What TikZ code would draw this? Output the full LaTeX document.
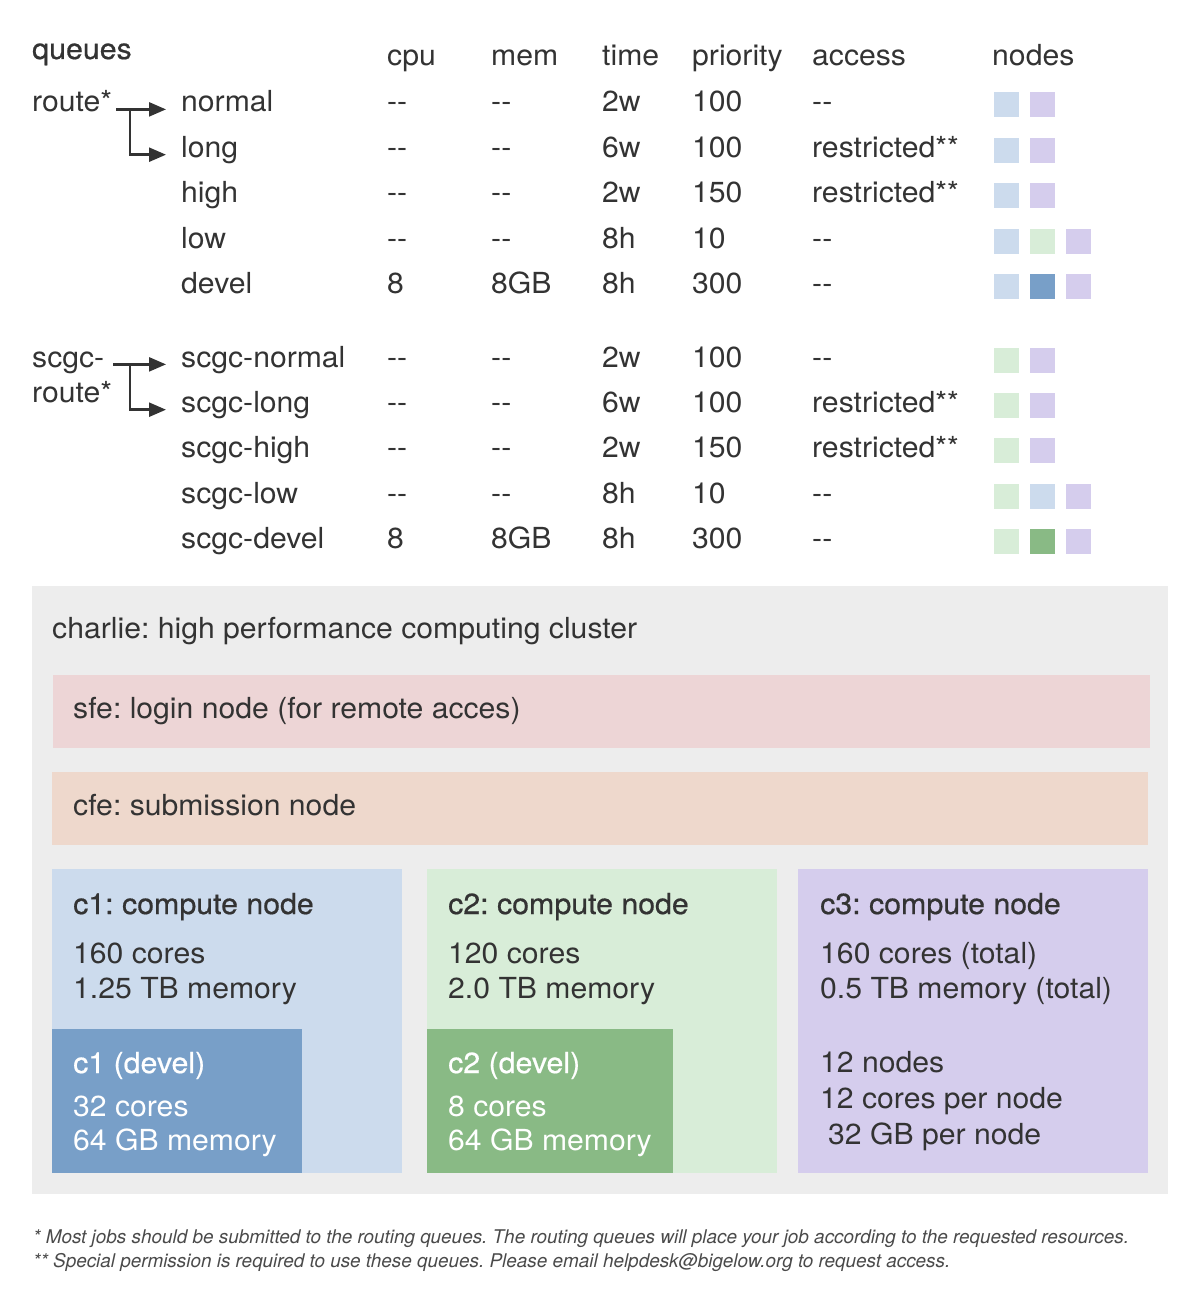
\documentclass[tikz,border=0pt]{standalone}
\usepackage{fontspec}
\setmainfont{TeX Gyre Heros}[FakeStretch=1.04]
\newfontfamily\medfont{TeX Gyre Heros}[FakeStretch=1.045,FakeBold=0.6]
\newfontfamily\notefont{TeX Gyre Heros}
\usetikzlibrary{arrows.meta,calc}
\frenchspacing

\definecolor{ink}{HTML}{333333}
\definecolor{noteink}{HTML}{4A4A4A}
\definecolor{clusterbg}{HTML}{EDEDED}
\definecolor{sfefill}{HTML}{EDD5D6}
\definecolor{cfefill}{HTML}{EED8CC}
\definecolor{conelight}{HTML}{CCDBED}
\definecolor{conedark}{HTML}{789FC8}
\definecolor{ctwolight}{HTML}{D8EDD8}
\definecolor{ctwodark}{HTML}{89BA85}
\definecolor{cthree}{HTML}{D5CDED}

\newcommand\bodyfs{\fontsize{29}{34}\selectfont}
\newcommand\notefs{\notefont\fontsize{18.9}{24}\selectfont\itshape\frenchspacing}
\newcommand\dd{-\kern0pt-}

\begin{document}
\begin{tikzpicture}[x=1pt,y=-1pt,
  txt/.style={inner sep=0pt, anchor=base west, text=ink, font=\bodyfs\frenchspacing},
  head/.style={txt, font=\bodyfs\medfont\frenchspacing},
  whitetxt/.style={txt, text=white},
  whitehead/.style={head, text=white},
  note/.style={inner sep=0pt, anchor=base west, text=noteink, font=\notefs},
  sq/.style={minimum size=25pt, inner sep=0pt, draw=none},
  panel/.style={inner sep=0pt, draw=none, anchor=north west},
  flow/.style={draw=ink, line width=2.4pt, shorten >=15pt,
    -{Triangle[length=17pt,width=14pt]}}]

\useasboundingbox (0,0) rectangle (1200,1300);

% ---------- queue table ----------
\node[head] (hq) at (32,59) {queues};
\node[txt] (hcpu) at (387,66) {cpu};
\node[txt] (hmem) at (491,66) {mem};
\node[txt] (htime) at (602,66) {time};
\node[txt] (hpri) at (692,66) {priority};
\node[txt] (hacc) at (812,66) {access};
\node[txt] (hnodes) at (992,66) {nodes};

\foreach \i/\y/\nm/\c/\m/\t/\p/\a in {
  1/112/normal/\dd/\dd/2w/100/\dd,
  2/157.3/long/\dd/\dd/6w/100/restricted**,
  3/202.6/high/\dd/\dd/2w/150/restricted**,
  4/248/low/\dd/\dd/8h/10/\dd,
  5/293.3/devel/8/8GB/8h/300/\dd,
  6/367/scgc-normal/\dd/\dd/2w/100/\dd,
  7/412.3/scgc-long/\dd/\dd/6w/100/restricted**,
  8/457.6/scgc-high/\dd/\dd/2w/150/restricted**,
  9/503/scgc-low/\dd/\dd/8h/10/\dd,
  10/548.3/scgc-devel/8/8GB/8h/300/\dd}{
  \node[txt] (q\i) at (181,\y) {\nm};
  \node[txt] (cpu\i) at (387,\y) {\c};
  \node[txt] (mem\i) at (491,\y) {\m};
  \node[txt] (time\i) at (602,\y) {\t};
  \node[txt] (pri\i) at (692,\y) {\p};
  \node[txt] (acc\i) at (812,\y) {\a};
}

% node-membership squares
\foreach \i/\y/\ca/\cb in {1/105/conelight/cthree, 2/150.3/conelight/cthree,
  3/195.6/conelight/cthree, 6/360/ctwolight/cthree, 7/405.3/ctwolight/cthree,
  8/450.6/ctwolight/cthree}{
  \node[sq, fill=\ca] (sa\i) at (1006,\y) {};
  \node[sq, fill=\cb] (sb\i) at (1042,\y) {};
}
\foreach \i/\y/\ca/\cb/\cc in {4/241/conelight/ctwolight/cthree,
  5/286.3/conelight/conedark/cthree, 9/496/ctwolight/conelight/cthree,
  10/541.3/ctwolight/ctwodark/cthree}{
  \node[sq, fill=\ca] (sa\i) at (1006,\y) {};
  \node[sq, fill=\cb] (sb\i) at (1042,\y) {};
  \node[sq, fill=\cc] (sc\i) at (1078,\y) {};
}

% routing queues
\node[txt] (rt1) at (32,112) {route*};
\node[txt] (rt2a) at (32,367) {scgc-};
\node[txt] (rt2b) at (32,402) {route*};
\coordinate (j1) at (130,0);
\coordinate (j2) at (130,0);

\draw[flow, shorten <=4pt] (rt1.mid east) -- (q1.mid west);
\draw[flow] ([yshift=1.2pt]j1 |- rt1.mid east) |- (q2.mid west);
\draw[flow, shorten <=9pt] (rt2a.mid east) -- (q6.mid west);
\draw[flow] ([yshift=1.2pt]j2 |- rt2a.mid east) |- (q7.mid west);

% ---------- cluster ----------
\node[panel, fill=clusterbg, minimum width=1136pt, minimum height=608pt] (charlie) at (32,586) {};
\node[txt] (charlietitle) at (52,638) {charlie: high performance computing cluster};

\node[panel, fill=sfefill, minimum width=1097pt, minimum height=73pt] (sfe) at (53,675) {};
\node[txt] (sfetxt) at (73,718) {sfe: login node (for remote acces)};

\node[panel, fill=cfefill, minimum width=1096pt, minimum height=73pt] (cfe) at (52,771.5) {};
\node[txt] (cfetxt) at (73,815) {cfe: submission node};

% c1
\node[panel, fill=conelight, minimum width=350pt, minimum height=304pt] (c1) at (52,869) {};
\node[panel, fill=conedark, minimum width=250pt, minimum height=144pt] (c1d) at (52,1029) {};
\node[head] (c1t) at (73,914) {c1: compute node};
\node[txt] (c1a) at (73,963) {160 cores};
\node[txt] (c1b) at (73,998) {1.25 TB memory};
\node[whitehead] (c1dt) at (73,1073) {c1 (devel)};
\node[whitetxt] (c1da) at (73,1116) {32 cores};
\node[whitetxt] (c1db) at (73,1150) {64 GB memory};

% c2
\node[panel, fill=ctwolight, minimum width=350pt, minimum height=304pt] (c2) at (427,869) {};
\node[panel, fill=ctwodark, minimum width=245.5pt, minimum height=144pt] (c2d) at (427,1029) {};
\node[head] (c2t) at (448,914) {c2: compute node};
\node[txt] (c2a) at (448,963) {120 cores};
\node[txt] (c2b) at (448,998) {2.0 TB memory};
\node[whitehead] (c2dt) at (448,1073) {c2 (devel)};
\node[whitetxt] (c2da) at (448,1116) {8 cores};
\node[whitetxt] (c2db) at (448,1150) {64 GB memory};

% c3
\node[panel, fill=cthree, minimum width=350pt, minimum height=304pt] (c3) at (798,869) {};
\node[head] (c3t) at (820,914) {c3: compute node};
\node[txt] (c3a) at (820,963) {160 cores (total)};
\node[txt] (c3b) at (820,998) {0.5 TB memory (total)};
\node[txt] (c3c) at (820,1072) {12 nodes};
\node[txt] (c3d) at (820,1108) {12 cores per node};
\node[txt] (c3e) at (828,1144) {32 GB per node};

% ---------- footnotes ----------
\node[note] (fn1) at (33,1243) {* Most jobs should be submitted to the routing queues. The routing queues will place your job according to the requested resources.};
\node[note] (fn2) at (33,1267) {** Special permission is required to use these queues. Please email helpdesk@bigelow.org to request access.};

\end{tikzpicture}
\end{document}
